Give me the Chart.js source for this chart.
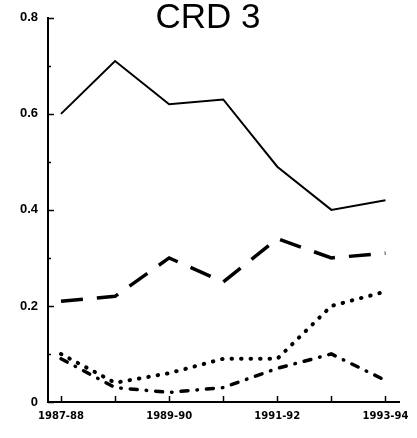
<!DOCTYPE html>
<html>
<head>
<meta charset="utf-8">
<script src="https://cdn.jsdelivr.net/npm/chart.js@4/dist/chart.umd.min.js"></script>
<style>
  html, body { margin: 0; padding: 0; background: #fff; }
  #wrap { width: 417px; height: 438px; }
</style>
</head>
<body>
<div id="wrap"><canvas id="c" width="417" height="438"></canvas></div>
<script>
// Season categories along the x axis
const categories = ['1987-88', '1988-89', '1989-90', '1990-91', '1991-92', '1992-93', '1993-94'];
// Which seasons carry a printed label
const xTickLabels = ['1987-88', '', '1989-90', '', '1991-92', '', '1993-94'];
// Y tick labels at every 0.2
const yTickLabels = ['0', '0.2', '0.4', '0.6', '0.8'];

// Four series
const solidSeries    = [0.60, 0.71, 0.62, 0.63, 0.49, 0.40, 0.42];
const longDashSeries = [0.21, 0.22, 0.30, 0.25, 0.34, 0.30, 0.31];
const dottedSeries   = [0.10, 0.04, 0.06, 0.09, 0.09, 0.20, 0.23];
const dashDotSeries  = [0.09, 0.03, 0.02, 0.03, 0.07, 0.10, 0.045];

const toPoints = arr => arr.map((v, i) => ({ x: i, y: v }));

// Inward tick marks on both axes plus the title
const decorations = {
  id: 'decorations',
  afterDraw(chart) {
    const { ctx, chartArea, scales } = chart;
    const x = scales.x, y = scales.y;
    ctx.save();
    ctx.strokeStyle = '#000';
    ctx.lineWidth = 1.5;
    // y ticks: majors every 0.2, minors every 0.1
    for (let k = 0; k <= 8; k++) {
      const py = Math.round(y.getPixelForValue(k / 10)) + 0.5;
      const len = (k % 2 === 0) ? 6 : 3;
      ctx.beginPath();
      ctx.moveTo(chartArea.left, py);
      ctx.lineTo(chartArea.left + len, py);
      ctx.stroke();
    }
    // x ticks at every season
    categories.forEach((_, i) => {
      const px = Math.round(x.getPixelForValue(i)) + 0.5;
      ctx.beginPath();
      ctx.moveTo(px, chartArea.bottom);
      ctx.lineTo(px, chartArea.bottom - 6);
      ctx.stroke();
    });
    // title
    ctx.fillStyle = '#000';
    ctx.font = '35px "Liberation Sans", Arial, sans-serif';
    ctx.textAlign = 'center';
    ctx.textBaseline = 'alphabetic';
    ctx.fillText('CRD 3', 208, 28);
    ctx.restore();
  }
};

const common = { fill: false, pointRadius: 0, tension: 0, borderColor: '#000' };

new Chart(document.getElementById('c'), {
  type: 'line',
  data: {
    datasets: [
      { ...common, data: toPoints(solidSeries), borderWidth: 2 },
      { ...common, data: toPoints(longDashSeries), borderWidth: 3.5, borderDash: [22, 14] },
      { ...common, data: toPoints(dottedSeries), borderWidth: 4, borderDash: [0.5, 9], borderCapStyle: 'round' },
      { ...common, data: toPoints(dashDotSeries), borderWidth: 3.5, borderDash: [7, 9, 0.5, 9], borderCapStyle: 'round' }
    ]
  },
  options: {
    responsive: false,
    animation: false,
    events: [],
    layout: { padding: { top: 9, right: 15, left: 0, bottom: 0 } },
    plugins: { legend: { display: false }, tooltip: { enabled: false }, title: { display: false } },
    scales: {
      x: {
        type: 'linear',
        min: -0.24,
        max: 6.26,
        afterFit(s) { s.height = 36; },
        afterBuildTicks(s) { s.ticks = categories.map((_, i) => ({ value: i })); },
        grid: { display: false, drawTicks: false },
        border: { display: true, width: 2, color: '#000' },
        ticks: {
          autoSkip: false,
          maxRotation: 0,
          padding: 8,
          color: '#000',
          font: { family: '"DejaVu Sans", sans-serif', size: 10, weight: 'bold' },
          callback: (v) => xTickLabels[v] || ''
        }
      },
      y: {
        min: 0,
        max: 0.8,
        afterFit(s) { s.width = 48; },
        afterBuildTicks(s) { s.ticks = yTickLabels.map((_, i) => ({ value: i * 0.2 })); },
        grid: { display: false, drawTicks: false },
        border: { display: true, width: 2, color: '#000' },
        ticks: {
          padding: 10,
          color: '#000',
          font: { family: '"Liberation Sans", Arial, sans-serif', size: 13, weight: 'bold' },
          callback: (v) => yTickLabels[Math.round(v / 0.2)]
        }
      }
    }
  },
  plugins: [decorations]
});
</script>
</body>
</html>
